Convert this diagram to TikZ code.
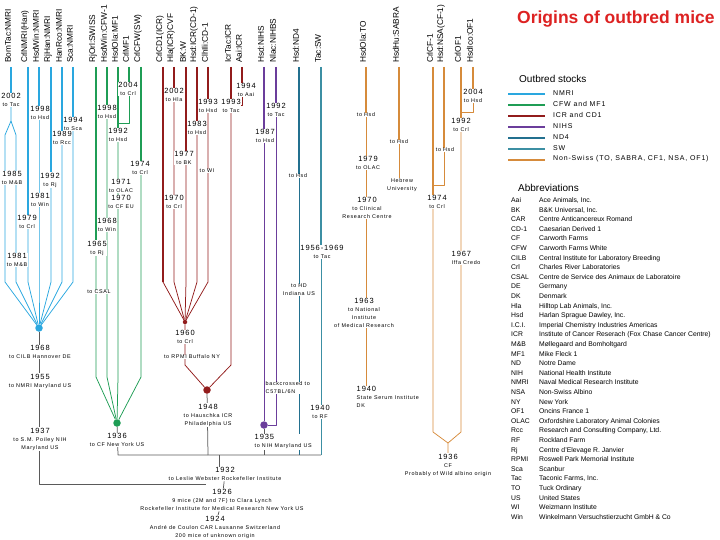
\documentclass[tikz,border=0pt]{standalone}
\usepackage{fontspec}
\setmainfont{Liberation Sans}
\newfontfamily\spf[LetterSpace=12]{Liberation Sans}
\usetikzlibrary{backgrounds}

\definecolor{nmri}{HTML}{2AA7DF}
\definecolor{cfw}{HTML}{1F9D55}
\definecolor{icr}{HTML}{921C1C}
\definecolor{nih}{HTML}{6B3E9B}
\definecolor{nd4}{HTML}{23708F}
\definecolor{sw}{HTML}{3C8FA3}
\definecolor{nsw}{HTML}{D68B3B}
\definecolor{ancgray}{HTML}{5A5A5A}
\definecolor{titlered}{HTML}{DD2222}

\newcommand\yrfont{\fontsize{7.5}{7.5}\selectfont}
\newcommand\lblfont{\spf\fontsize{5.4}{8}\selectfont}
\newcommand\yrtext[2]{{\yrfont #1}\\#2}

\begin{document}
\begin{tikzpicture}[x=1pt,y=-1pt,
    stock/.style={rotate=90,anchor=west,inner sep=0pt,font=\fontsize{8.3}{9}\selectfont},
    ev/.style={align=center,fill=white,inner sep=0.5pt,font=\lblfont},
    evl/.style={ev,align=left},
    thk/.style={line width=2.5pt},
    thn/.style={line width=0.75pt,line join=round},
    anc/.style={draw=ancgray,line width=0.75pt,line join=round},
    bigdot/.style={circle,inner sep=0pt,minimum size=7.5pt},
    smalldot/.style={circle,inner sep=0pt,minimum size=4.5pt}]

\useasboundingbox (0,0) rectangle (720,540);

% title
\node[anchor=base west,inner sep=0pt,text=titlered,font=\bfseries\fontsize{17.5}{20}\selectfont] (title) at (517,24) {Origins of outbred mice};

% stock names along the top
\foreach \x/\s/\n in {11/BomTac:NMRI/bom,28/CrlNMRI(Han)/crln,39/HsdWin:NMRI/hwn,51/RjHan:NMRI/rjh,62/HanRco:NMRI/hrc,73/Sca:NMRI/sca,
  96/RjOrl:SWISS/rjo,107/HsdWin:CFW-1/hwc,118/HsdOla:MF1/hom,129/CrlMF1/cmf,141/CrlCFW(SW)/ccf,
  163/CrlCD1(ICR)/ccd,174/Hla(ICR)CVF/hla,186/BK:W/bkw,197/Hsd:ICR(CD-1)/hic,208/ClhIli:CD-1/cli,231/IcrTac:ICR/itc,242/Aai:ICR/aai,
  264/Hsd:NIHS/hnih,276/Nlac:NIHBS/nlac,299/Hsd:ND4/hnd,321/Tac:SW/tsw,
  366/HsdOla:TO/hto,399/HsdHu:SABRA/hsab,433/CrlCF-1/ccfa,444/Hsd:NSA(CF-1)/hnsa,461/CrlOF1/cof,473/HsdIco:OF1/hof}
{
  \node[stock] (l\n) at (\x-3,63) {\s};
  \coordinate (t\n) at (\x,67);
}

% NMRI
\node[ev] (e1) at (11,100) {\yrtext{2002}{to Tac}};
\node[ev] (e2) at (12,178) {\yrtext{1985}{to M\&B}};
\node[ev] (e3) at (17,260) {\yrtext{1981}{to M\&B}};
\node[ev] (e4) at (27,222) {\yrtext{1979}{to Crl}};
\node[ev] (e5) at (40,113) {\yrtext{1998}{to Hsd}};
\node[ev] (e6) at (40,200) {\yrtext{1981}{to Win}};
\node[ev] (e7) at (50,180) {\yrtext{1992}{to Rj}};
\node[ev] (e8) at (62,138) {\yrtext{1989}{to Rcc}};
\node[ev] (e9) at (73,124) {\yrtext{1994}{to Sca}};
\node[bigdot,fill=nmri] (ndot) at (39,328) {};
\node[ev] (a1) at (40,352) {\yrtext{1968}{to CILB Hannover DE}};
\node[ev] (a2) at (40,381) {\yrtext{1955}{to NMRI Maryland US}};
\node[ev] (a3) at (40,439) {\yrtext{1937}{to S.M. Poiley NIH\\Maryland US}};

% CFW and MF1
\node[ev] (g1) at (97,248) {\yrtext{1965}{to Rj}};
\node[ev] (g2) at (99,292) {to CSAL};
\node[ev] (g3) at (107,112) {\yrtext{1998}{to Hsd}};
\node[ev] (g4) at (107,225) {\yrtext{1968}{to Win}};
\node[ev] (g5) at (128,89) {\yrtext{2004}{to Crl}};
\node[ev] (g6) at (118,135) {\yrtext{1992}{to Hsd}};
\node[ev] (g7) at (121,186) {\yrtext{1971}{to OLAC}};
\node[ev] (g8) at (121,202) {\yrtext{1970}{to CF EU}};
\node[ev] (g9) at (140,168) {\yrtext{1974}{to Crl}};
\node[bigdot,fill=cfw] (gdot) at (117,423) {};
\node[ev] (gd) at (117,440) {\yrtext{1936}{to CF New York US}};

% ICR and CD1
\node[ev] (r1) at (174,95) {\yrtext{2002}{to Hla}};
\node[ev] (r2) at (174,202) {\yrtext{1970}{to Crl}};
\node[ev] (r3) at (184,158) {\yrtext{1977}{to BK}};
\node[ev] (r4) at (197,128) {\yrtext{1983}{to Hsd}};
\node[ev] (r5) at (208,106) {\yrtext{1993}{to Hsd}};
\node[ev] (r6) at (207,171) {to WI};
\node[ev] (r7) at (231,106) {\yrtext{1993}{to Tac}};
\node[ev] (r8) at (246,90) {\yrtext{1994}{to Aai}};
\node[smalldot,fill=icr] (rdot1) at (185,322) {};
\node[ev] (rl1) at (185,337) {\yrtext{1960}{to Crl}};
\node[ev] (rl2) at (192,357) {to RPMI Buffalo NY};
\node[bigdot,fill=icr] (rdot2) at (207,390) {};
\node[ev] (rl3) at (208,415) {\yrtext{1948}{to Hauschka ICR\\Philadelphia US}};

% NIHS
\node[ev] (p1) at (265,136) {\yrtext{1987}{to Hsd}};
\node[ev] (p2) at (276,110) {\yrtext{1992}{to Tac}};
\node[evl,anchor=west] (p3) at (265,388) {backcrossed to\\C57BL/6N};
\node[bigdot,fill=nih] (pdot) at (264,425) {};
\node[evl,anchor=north west] (pl) at (254,434) {\yrtext{1935}{to NIH Maryland US}};

% ND4 and SW
\node[ev] (n1) at (298,176) {to Hsd};
\node[ev] (n2) at (299,290) {to HD\\Indiana US};
\node[ev] (s1) at (322,252) {\yrtext{1956-1969}{to Tac}};
\node[ev] (s2) at (320,412) {\yrtext{1940}{to RF}};

% Non-Swiss
\node[ev] (o1) at (366,115) {to Hsd};
\node[ev] (o2) at (368,163) {\yrtext{1979}{to OLAC}};
\node[ev] (o3) at (367,208) {\yrtext{1970}{to Clinical\\Research Centre}};
\node[ev] (o4) at (364,313) {\yrtext{1963}{to National\\Institute\\of Medical Research}};
\node[evl,anchor=north west] (o5) at (356,386) {\yrtext{1940}{State Serum Institute\\DK}};
\node[ev] (o6) at (399,142) {to Hsd};
\node[ev] (o7) at (402,185) {Hebrew\\University};
\node[ev] (o8) at (445,150) {to Hsd};
\node[ev] (o9) at (437,202) {\yrtext{1974}{to Crl}};
\node[ev] (o10) at (473,96) {\yrtext{2004}{to Hsd}};
\node[ev] (o11) at (461,125) {\yrtext{1992}{to Crl}};
\node[evl,anchor=north west] (o12) at (451,251) {\yrtext{1967}{Iffa Credo}};
\node[ev] (o13) at (448,465) {\yrtext{1936}{CF\\Probably of Wild albino origin}};

% common roots
\node[ev] (b2) at (225,474) {\yrtext{1932}{to Leslie Webster Rockefeller Institute}};
\node[ev] (b3) at (222,500) {\yrtext{1926}{9 mice (2M and 7F) to Clara Lynch\\Rockefeller Institute for Medical Research New York US}};
\node[ev] (b4) at (215,527) {\yrtext{1924}{Andr\'e de Coulon CAR Lausanne Switzerland\\200 mice of unknown origin}};

\begin{pgfonlayer}{background}
% NMRI
\coordinate (fk) at (11,121);
\coordinate (fkl) at (5,135);
\coordinate (fkr) at (16,135);
\foreach \n/\x in {1/5,2/16,3/28,4/39,5/51,6/62,7/73} \coordinate (nb\n) at (\x,282);
\draw[nmri,thk] (tbom) -- (tbom |- e1.center);
\draw[nmri,thn] (tbom |- e1.center) -- (fk) -- (fkl) -- (nb1) -- (ndot);
\draw[nmri,thn] (fk) -- (fkr) -- (nb2) -- (ndot);
\draw[nmri,thk] (tcrln) -- (tcrln |- e4.center);
\draw[nmri,thn] (tcrln |- e4.center) -- (nb3) -- (ndot);
\draw[nmri,thk] (thwn) -- (thwn |- e5.center);
\draw[nmri,thn] (thwn |- e5.center) -- (nb4) -- (ndot);
\draw[nmri,thk] (trjh) -- (trjh |- e7.center);
\draw[nmri,thn] (trjh |- e7.center) -- (nb5) -- (ndot);
\draw[nmri,thk] (thrc) -- (thrc |- e8.center);
\draw[nmri,thn] (thrc |- e8.center) -- (nb6) -- (ndot);
\draw[nmri,thk] (tsca) -- (tsca |- e9.center);
\draw[nmri,thn] (tsca |- e9.center) -- (nb7) -- (ndot);
% CFW and MF1
\foreach \n/\x in {1/96,2/107,3/118,4/141} \coordinate (gb\n) at (\x,377);
\coordinate (gbox) at (129,123);
\draw[cfw,thk] (trjo) -- (trjo |- g1.center);
\draw[cfw,thn] (trjo |- g1.center) -- (gb1) -- (gdot);
\draw[cfw,thk] (thwc) -- (thwc |- g3.center);
\draw[cfw,thn] (thwc |- g3.center) -- (gb2) -- (gdot);
\draw[cfw,thk] (tcmf) -- (tcmf |- g5.center);
\draw[cfw,thn] (tcmf |- g5.center) -- (gbox) -- (thom |- gbox);
\draw[cfw,thk] (thom) -- (thom |- g6.center);
\draw[cfw,thn] (thom |- g6.center) -- (gb3) -- (gdot);
\draw[cfw,thk] (tccf) -- (tccf |- g9.center);
\draw[cfw,thn] (tccf |- g9.center) -- (gb4) -- (gdot);
% ICR and CD1
\foreach \n/\x in {1/163,2/174,3/186,4/197,5/208} \coordinate (rb\n) at (\x,282);
\coordinate (rb6) at (185,365);
\coordinate (rb7) at (231,365);
\coordinate (rbox) at (242,105);
\draw[icr,thk] (tccd) -- (rb1);
\draw[icr,thn] (rb1) -- (rdot1);
\draw[icr,thk] (thla) -- (thla |- r1.center);
\draw[icr,thn] (thla |- r1.center) -- (rb2) -- (rdot1);
\draw[icr,thk] (tbkw) -- (tbkw |- r3.center);
\draw[icr,thn] (tbkw |- r3.center) -- (rb3) -- (rdot1);
\draw[icr,thk] (thic) -- (thic |- r4.center);
\draw[icr,thn] (thic |- r4.center) -- (rb4) -- (rdot1);
\draw[icr,thk] (tcli) -- (tcli |- r5.center);
\draw[icr,thn] (tcli |- r5.center) -- (rb5) -- (rdot1);
\draw[icr,thn] (rdot1) -- (rb6) -- (rdot2);
\draw[icr,thk] (titc) -- (titc |- r7.center);
\draw[icr,thn] (titc |- r7.center) -- (rb7) -- (rdot2);
\draw[icr,thk] (taai) -- (taai |- r8.center);
\draw[icr,thn] (taai |- r8.center) -- (rbox) -- (titc |- rbox);
% NIHS
\coordinate (pbox) at (276,425);
\draw[nih,thk] (thnih) -- (thnih |- p1.center);
\draw[nih,thn] (thnih |- p1.center) -- (pdot);
\draw[nih,thk] (tnlac) -- (tnlac |- p2.center);
\draw[nih,thn] (tnlac |- p2.center) -- (pbox) -- (pdot);
% ND4 and SW
\coordinate (jl) at (118,455);
\coordinate (jr) at (208,455);
\coordinate (jc) at (219,455);
\coordinate (jp) at (264,455);
\coordinate (jn) at (299,455);
\coordinate (js) at (321,455);
\draw[nd4,thk] (thnd) -- (thnd |- n1.center);
\draw[nd4,thn] (thnd |- n1.center) -- (jn);
\draw[sw,thk] (ttsw) -- (ttsw |- s1.center);
\draw[sw,thn] (ttsw |- s1.center) -- (js);
% Non-Swiss
\coordinate (obox1) at (444,185);
\coordinate (obox2) at (473,112);
\coordinate (ob1) at (433,432);
\coordinate (ob2) at (461,432);
\coordinate (ovap) at (448,443);
\draw[nsw,thk] (thto) -- (thto |- o1.center);
\draw[nsw,thn] (thto |- o1.center) -- (thto |- o5.north);
\draw[nsw,thk] (thsab) -- (thsab |- o6.center);
\draw[nsw,thn] (thsab |- o6.center) -- (thsab |- o7.north);
\draw[nsw,thk] (thnsa) -- (thnsa |- o8.center);
\draw[nsw,thn] (thnsa |- o8.center) -- (obox1) -- (tccfa |- obox1);
\draw[nsw,thk] (tccfa) -- (tccfa |- o9.center);
\draw[nsw,thn] (tccfa |- o9.center) -- (ob1) -- (ovap);
\draw[nsw,thk] (thof) -- (thof |- o10.center);
\draw[nsw,thn] (thof |- o10.center) -- (obox2) -- (tcof |- obox2);
\draw[nsw,thk] (tcof) -- (tcof |- o11.center);
\draw[nsw,thn] (tcof |- o11.center) -- (ob2) -- (ovap) -- (o13);
% shared ancestry
\coordinate (nc) at (39,484);
\coordinate (c26) at (206,484);
\draw[anc] (ndot) -- (nc) -- (c26);
\draw[anc] (gdot) -- (jl) -- (js);
\draw[anc] (rdot2) -- (jr);
\draw[anc] (pdot) -- (jp);
\draw[anc] (jc) -- (jc |- b2.center);
\draw[anc] (b2) -- (b3) -- (b4);
\end{pgfonlayer}

% legend
\node[anchor=west,inner sep=0pt,font=\fontsize{10}{12}\selectfont] (outb) at (519,79) {Outbred stocks};
\foreach \c/\t [count=\i from 0] in {nmri/NMRI,cfw/CFW and MF1,icr/ICR and CD1,nih/NIHS,nd4/ND4,sw/SW,nsw/{Non-Swiss (TO, SABRA, CF1, NSA, OF1)}}
{
  \node[anchor=west,inner sep=0pt,font=\spf\fontsize{7}{8}\selectfont] (k\i) at (553,93+11*\i) {\t};
  \coordinate (ks\i) at (508,94+11*\i);
  \draw[draw=\c,line width=2.4pt,shorten >=8pt] (ks\i) -- (ks\i -| k\i.west);
}

\node[anchor=west,inner sep=0pt,font=\fontsize{10}{12}\selectfont] (abbr) at (518,188) {Abbreviations};
\foreach \a/\d [count=\i from 0] in {Aai/{Ace Animals, Inc.},BK/{B\&K Universal, Inc.},CAR/{Centre Anticancereux Romand},
  CD-1/{Caesarian Derived 1},CF/{Carworth Farms},CFW/{Carworth Farms White},CILB/{Central Institute for Laboratory Breeding},
  Crl/{Charles River Laboratories},CSAL/{Centre de Service des Animaux de Laboratoire},DE/{Germany},DK/{Denmark},
  Hla/{Hilltop Lab Animals, Inc.},Hsd/{Harlan Sprague Dawley, Inc.},I.C.I./{Imperial Chemistry Industries Americas},
  ICR/{Institute of Cancer Reserach (Fox Chase Cancer Centre)},M\&B/{M\o llegaard and Bomholtgard},MF1/{Mike Fleck 1},
  ND/{Notre Dame},NIH/{National Health Institute},NMRI/{Naval Medical Research Institute},NSA/{Non-Swiss Albino},
  NY/{New York},OF1/{Oncins France 1},OLAC/{Oxfordshire Laboratory Animal Colonies},Rcc/{Research and Consulting Company, Ltd.},
  RF/{Rockland Farm},Rj/{Centre d'Elevage R. Janvier},RPMI/{Roswell Park Memorial Institute},Sca/{Scanbur},
  Tac/{Taconic Farms, Inc.},TO/{Tuck Ordinary},US/{United States},WI/{Weizmann Institute},Win/{Winkelmann Versuchstierzucht GmbH \& Co}}
{
  \node[anchor=base west,inner sep=0pt,font=\fontsize{6.8}{8}\selectfont] (ab\i) at (511,202.5+9.6*\i) {\a};
  \node[anchor=base west,inner sep=0pt,font=\fontsize{6.8}{8}\selectfont] (ad\i) at (539,202.5+9.6*\i) {\d};
}
\end{tikzpicture}
\end{document}
